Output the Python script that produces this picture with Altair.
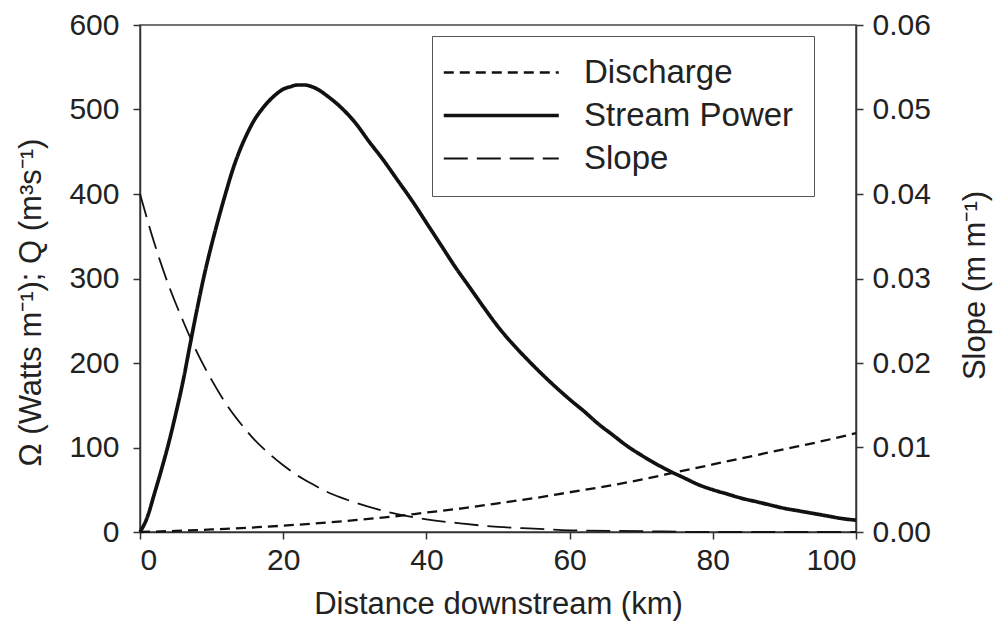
import altair as alt
import pandas as pd

# ---- data ----
power_km = [0, 1, 2, 3, 4, 5, 6, 7, 8, 9, 10, 11, 12, 13, 14, 15, 16, 17, 18, 19, 20,
            21, 22, 23, 24, 25, 26, 28, 30, 32, 34, 36, 38, 40, 42, 44, 46, 48, 50,
            52, 54, 56, 58, 60, 62, 64, 66, 68, 70, 72, 74, 76, 78, 80, 82, 84, 86,
            88, 90, 92, 94, 96, 98, 100]
stream_power = [0, 17, 45, 74, 105, 140, 178, 222, 265, 305, 340, 372, 402, 430, 453,
                472, 488, 500, 510, 518, 524, 527, 529, 529, 527, 523, 517, 503, 485,
                462, 440, 416, 392, 366, 340, 314, 290, 266, 243, 223, 205, 188, 172,
                157, 143, 128, 115, 102, 91, 81, 72, 64, 56, 50, 45, 40, 36, 32, 28,
                25, 22, 19, 16, 14]

discharge_km = [0, 5, 10, 15, 20, 25, 30, 35, 40, 45, 50, 55, 60, 65, 70, 75, 80, 85,
                90, 95, 100]
discharge = [0, 1.3, 3, 5, 7.5, 10.5, 14, 18, 23, 28, 34, 40, 47, 54, 62, 71, 80, 89,
             98, 107, 117]

slope_km = [0, 2, 4, 6, 8, 10, 12, 14, 16, 18, 20, 22, 24, 26, 28, 30, 35, 40, 45, 50,
            55, 60, 70, 80, 90, 100]
slope = [0.0400, 0.0342, 0.0292, 0.0250, 0.0212, 0.0180, 0.0152, 0.0129, 0.0109,
         0.0093, 0.0079, 0.0067, 0.0057, 0.0048, 0.0041, 0.0035, 0.0023, 0.0015,
         0.0010, 0.0006, 0.0004, 0.0002, 0.0001, 0.0, 0.0, 0.0]

series_names = ["Discharge", "Stream Power", "Slope"]
x_ticks = [0, 20, 40, 60, 80, 100]
left_ticks = [0, 100, 200, 300, 400, 500, 600]
right_ticks = [0.0, 0.01, 0.02, 0.03, 0.04, 0.05, 0.06]

# ---- styles ----
dash_range = [[10, 6], [1, 0], [24, 9]]
width_range = [2.3, 3.7, 1.8]
FONT = "Liberation Sans"
INK = "#111111"
TEXT = "#222222"

left_df = pd.concat([
    pd.DataFrame({"distance": discharge_km, "value": discharge, "series": "Discharge"}),
    pd.DataFrame({"distance": power_km, "value": stream_power, "series": "Stream Power"}),
])
right_df = pd.DataFrame({"distance": slope_km, "value": slope, "series": "Slope"})

legend = alt.Legend(
    title=None, orient="none", legendX=292, legendY=11, direction="vertical",
    symbolType="M-2.15,0H7.85", symbolSize=529, symbolStrokeColor=INK,
    labelFont=FONT, labelFontSize=33, labelColor=TEXT, labelOffset=99,
    labelLimit=400, rowPadding=9, padding=20, strokeColor="#555555",
    fillColor="white", cornerRadius=0,
)

x_enc = alt.X("distance:Q", scale=alt.Scale(domain=[0, 100], nice=False),
              axis=alt.Axis(values=x_ticks, title="Distance downstream (km)",
                            labelPadding=6, titlePadding=14))
dash_enc = alt.StrokeDash("series:N", scale=alt.Scale(domain=series_names, range=dash_range),
                          legend=legend)
width_enc = alt.StrokeWidth("series:N",
                            scale=alt.Scale(type="ordinal", domain=series_names, range=width_range),
                            legend=legend)

left = alt.Chart(left_df).mark_line(color=INK, interpolate="monotone").encode(
    x=x_enc,
    y=alt.Y("value:Q", scale=alt.Scale(domain=[0, 600], nice=False),
            axis=alt.Axis(orient="left", values=left_ticks,
                          title="Ω (Watts m⁻¹); Q (m³s⁻¹)", titleY=277,
                          labelPadding=14, titlePadding=21)),
    strokeDash=dash_enc,
    strokeWidth=width_enc,
)

right = alt.Chart(right_df).mark_line(color=INK, interpolate="monotone").encode(
    x=x_enc,
    y=alt.Y("value:Q", scale=alt.Scale(domain=[0, 0.06], nice=False),
            axis=alt.Axis(orient="right", values=right_ticks, format=".2f",
                          title="Slope (m m⁻¹)", titleAngle=270, titleY=260,
                          labelPadding=9, titlePadding=61)),
    strokeDash=dash_enc,
    strokeWidth=width_enc,
)

chart = alt.layer(left, right).resolve_scale(y="independent").properties(
    width=716, height=507,
    autosize=alt.AutoSizeParams(type="none"),
    padding={"left": 132, "top": 17, "right": 137, "bottom": 95},
).configure_view(
    stroke="#444444", strokeWidth=1.5
).configure_axis(
    labelFont=FONT, titleFont=FONT, labelFontSize=30, titleFontSize=31,
    labelColor=TEXT, titleColor=TEXT, titleFontWeight="normal", grid=False,
    tickSize=7, tickColor="#333333", tickWidth=1.5,
    domainColor="#333333", domainWidth=1.5,
)

chart.save("out.html", embed_options={"renderer": "svg", "actions": False})
